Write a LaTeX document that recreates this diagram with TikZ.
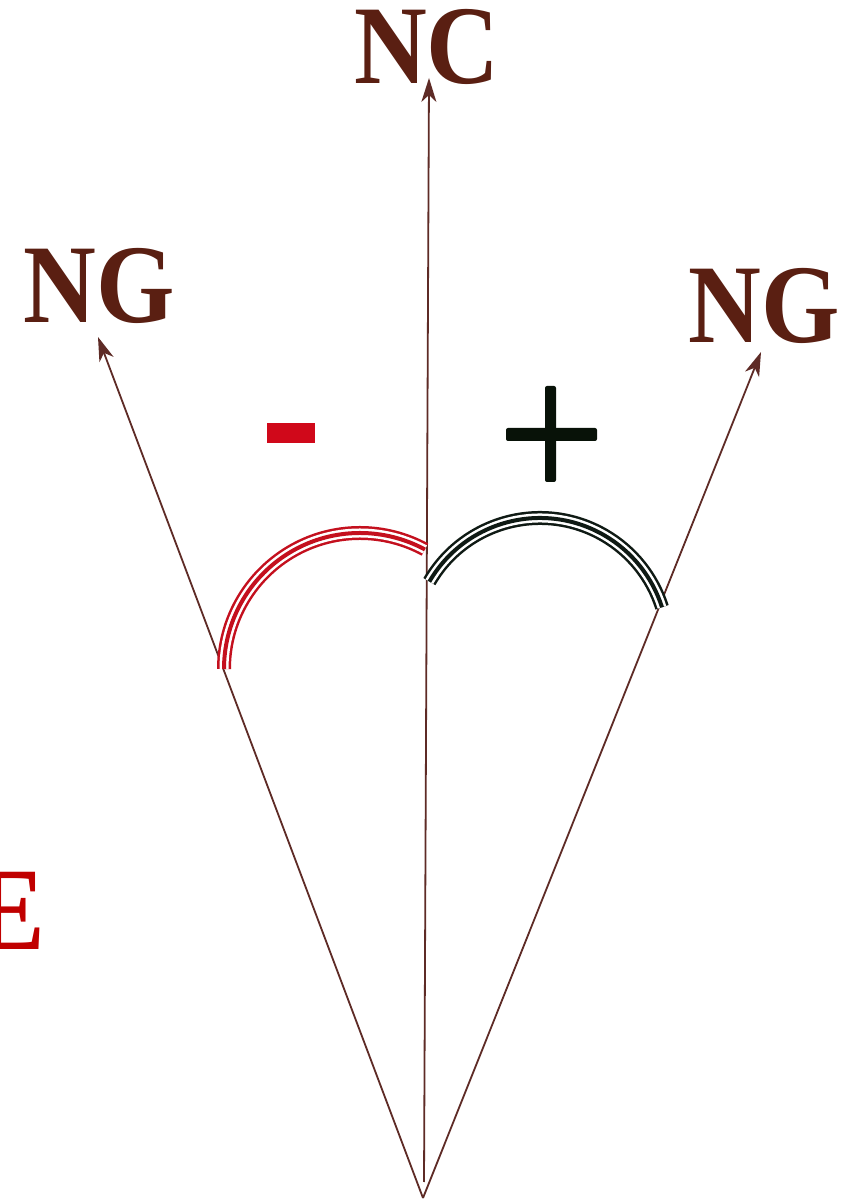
\documentclass[tikz,border=0pt]{standalone}
\usepackage{fontspec}
\setmainfont{Liberation Serif}
\usetikzlibrary{arrows.meta}
\definecolor{axisbrown}{HTML}{5E2B26}
\definecolor{textbrown}{HTML}{5A1F12}
\definecolor{arcred}{HTML}{C4101E}
\definecolor{arcblack}{HTML}{0F1A14}
\definecolor{signred}{HTML}{D0081A}
\definecolor{signblack}{HTML}{081208}
\definecolor{labelred}{HTML}{C00000}
\tikzset{
  axis/.style={draw=axisbrown, line width=1.8pt, -{Stealth[length=24pt,width=15pt,inset=7pt]}},
  biglabel/.style={text=textbrown, font=\bfseries\fontsize{112}{112}\selectfont, inner sep=0pt, anchor=base},
  triplearc/.style={line width=14pt, draw=#1},
  triplegap/.style={line width=9pt, draw=white},
  triplemid/.style={line width=4pt, draw=#1},
}
\begin{document}
\begin{tikzpicture}[x=1pt,y=1pt]
\fill[white] (0,0) rectangle (848,1201);
\useasboundingbox (0,0) rectangle (848,1201);

% points
\coordinate (apex) at (423,3);
\coordinate (cbot) at (424,19);
\coordinate (ctop) at (429,1123);
\coordinate (ltop) at (98,864);
\coordinate (rtop) at (761,849);
\coordinate (redstart) at (224,532);
\coordinate (blackstart) at ({540+128*cos(149.8)},{555+128*sin(149.8)});

% labels
\node[biglabel] (nc) at (427,1117) {\scalebox{0.9}[1]{NC}};
\node[biglabel] (ngl) at (99,878) {\scalebox{0.9}[1]{NG}};
\node[biglabel] (ngr) at (764,858) {\scalebox{0.9}[1]{NG}};
\node[text=labelred, font=\bfseries\fontsize{118}{118}\selectfont, inner sep=0pt, anchor=base east] (e) at (46,251) {\scalebox{0.9}[1]{E}};

% axes
\draw[axis] (cbot) -- (ctop);
\draw[axis] (apex) -- (ltop);
\draw[axis] (apex) -- (rtop);

% red arc (center (360,532), r 136)
\draw[triplearc=arcred] (redstart) arc[start angle=180, end angle=61.5, radius=136];
\draw[triplegap] (redstart) arc[start angle=180, end angle=61.5, radius=136];
\draw[triplemid=arcred] (redstart) arc[start angle=180, end angle=61.5, radius=136];
% black arc (center (540,555), r 128)
\draw[triplearc=arcblack] (blackstart) arc[start angle=149.8, end angle=17.6, radius=128];
\draw[triplegap] (blackstart) arc[start angle=149.8, end angle=17.6, radius=128];
\draw[triplemid=arcblack] (blackstart) arc[start angle=149.8, end angle=17.6, radius=128];

% signs
\node[fill=signred, inner sep=0pt, minimum width=48pt, minimum height=20pt] (minus) at (291,768) {};
\node[fill=signblack, inner sep=0pt, minimum width=11pt, minimum height=96pt, rounded corners=2pt] (plusv) at (550.5,767) {};
\node[fill=signblack, inner sep=0pt, minimum width=91pt, minimum height=13pt, rounded corners=2pt] (plush) at (551.5,766.5) {};
\end{tikzpicture}
\end{document}
